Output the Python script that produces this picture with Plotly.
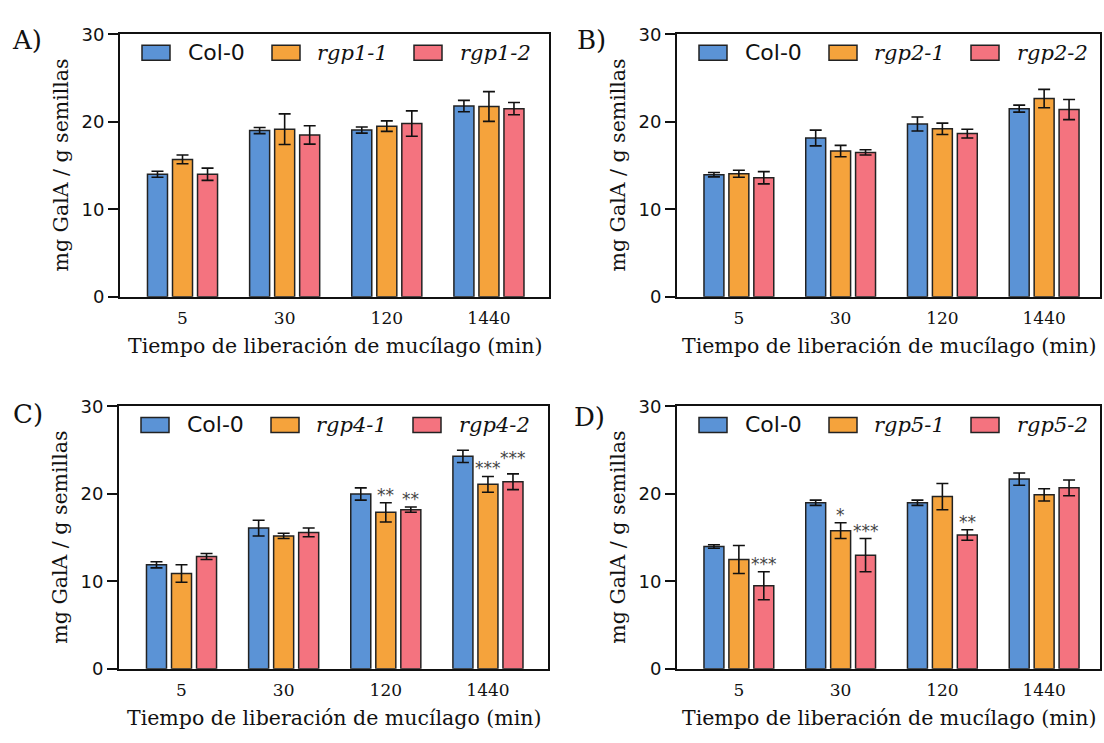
import plotly.graph_objects as go

# ---------------- data ----------------
categories = ["5", "30", "120", "1440"]
panel_labels = ["A)", "B)", "C)", "D)"]
x_title = "Tiempo de liberación de mucílago (min)"
y_title = "mg GalA / g semillas"
y_ticks = [0, 10, 20, 30]

names_a = ["Col-0", "rgp1-1", "rgp1-2"]
names_b = ["Col-0", "rgp2-1", "rgp2-2"]
names_c = ["Col-0", "rgp4-1", "rgp4-2"]
names_d = ["Col-0", "rgp5-1", "rgp5-2"]

# Panel A
a_col0 = [14.0, 19.0, 19.05, 21.8]
a_col0_err = [0.35, 0.35, 0.35, 0.65]
a_rgp1_1 = [15.7, 19.15, 19.5, 21.75]
a_rgp1_1_err = [0.5, 1.75, 0.6, 1.7]
a_rgp1_2 = [14.0, 18.5, 19.8, 21.5]
a_rgp1_2_err = [0.7, 1.05, 1.45, 0.7]

# Panel B
b_col0 = [13.95, 18.15, 19.75, 21.5]
b_col0_err = [0.25, 0.9, 0.8, 0.4]
b_rgp2_1 = [14.05, 16.65, 19.2, 22.65]
b_rgp2_1_err = [0.4, 0.65, 0.65, 1.05]
b_rgp2_2 = [13.6, 16.5, 18.65, 21.4]
b_rgp2_2_err = [0.7, 0.3, 0.5, 1.15]

# Panel C
c_col0 = [11.9, 16.1, 20.0, 24.3]
c_col0_err = [0.35, 0.9, 0.7, 0.7]
c_rgp4_1 = [10.9, 15.2, 17.9, 21.1]
c_rgp4_1_err = [1.0, 0.3, 1.1, 0.9]
c_rgp4_2 = [12.85, 15.6, 18.2, 21.4]
c_rgp4_2_err = [0.35, 0.5, 0.3, 0.9]

# Panel D
d_col0 = [14.0, 19.0, 19.0, 21.7]
d_col0_err = [0.2, 0.3, 0.3, 0.7]
d_rgp5_1 = [12.5, 15.8, 19.7, 19.9]
d_rgp5_1_err = [1.6, 0.9, 1.5, 0.7]
d_rgp5_2 = [9.5, 13.0, 15.3, 20.7]
d_rgp5_2_err = [1.6, 1.9, 0.6, 0.9]

# significance marks: (category, series index, text)
c_stars = [("120", 1, "**"), ("120", 2, "**"), ("1440", 1, "***"), ("1440", 2, "***")]
d_stars = [("5", 2, "***"), ("30", 1, "*"), ("30", 2, "***"), ("120", 2, "**")]

# ---------------- style ----------------
colors = ["#5b93d6", "#f5a33c", "#f4737f"]
edge = "#222222"
axis_col = "#111111"
W, H = 1104, 743

panels = [
    dict(names=names_a, vals=[a_col0, a_rgp1_1, a_rgp1_2],
         errs=[a_col0_err, a_rgp1_1_err, a_rgp1_2_err], stars=[],
         px=(120, 549), py=(24, 294), xr=(-0.612, 3.588), lab=(27, 30)),
    dict(names=names_b, vals=[b_col0, b_rgp2_1, b_rgp2_2],
         errs=[b_col0_err, b_rgp2_1_err, b_rgp2_2_err], stars=[],
         px=(677, 1100), py=(24, 294), xr=(-0.608, 3.549), lab=(591, 30)),
    dict(names=names_c, vals=[c_col0, c_rgp4_1, c_rgp4_2],
         errs=[c_col0_err, c_rgp4_1_err, c_rgp4_2_err], stars=c_stars,
         px=(119, 548), py=(407, 677), xr=(-0.612, 3.588), lab=(28, 415)),
    dict(names=names_d, vals=[d_col0, d_rgp5_1, d_rgp5_2],
         errs=[d_col0_err, d_rgp5_1_err, d_rgp5_2_err], stars=d_stars,
         px=(677, 1100), py=(407, 677), xr=(-0.608, 3.549), lab=(589, 418)),
]

bargap = 0.265
slot = (1 - bargap) / 3

sw_x = [22, 152, 294]
tx_x = [66, 195, 338]

fig = go.Figure()
shapes = []
annotations = []
layout_axes = {}

for p, pan in enumerate(panels):
    xa = "x" if p == 0 else f"x{p+1}"
    ya = "y" if p == 0 else f"y{p+1}"
    xkey = "xaxis" if p == 0 else f"xaxis{p+1}"
    ykey = "yaxis" if p == 0 else f"yaxis{p+1}"
    for s in range(3):
        fig.add_trace(go.Bar(
            x=categories, y=pan["vals"][s], name=pan["names"][s],
            marker=dict(color=colors[s], line=dict(color=edge, width=1.5)),
            error_y=dict(type="data", array=pan["errs"][s], color=axis_col,
                         thickness=1.6, width=6),
            xaxis=xa, yaxis=ya, showlegend=False, offsetgroup=str(s),
        ))
    x0, x1 = pan["px"]
    y0, y1 = pan["py"]
    layout_axes[xkey] = dict(
        domain=[x0 / W, x1 / W], range=list(pan["xr"]), type="category",
        anchor=ya, showline=True, linewidth=2, linecolor=axis_col, mirror=True,
        ticks="outside", ticklen=5, tickcolor="rgba(0,0,0,0)",
        tickfont=dict(family="DejaVu Serif", size=17, color="#111"),
        showgrid=False, zeroline=False, fixedrange=True,
    )
    layout_axes[ykey] = dict(
        domain=[1 - y1 / H, 1 - y0 / H], range=[0, 30], tickvals=y_ticks,
        anchor=xa, showline=True, linewidth=2, linecolor=axis_col, mirror=True,
        ticks="outside", ticklen=10, tickwidth=2, tickcolor=axis_col,
        tickfont=dict(family="DejaVu Sans", size=18, color="#111"),
        showgrid=False, zeroline=False, fixedrange=True,
    )
    # legend (manual swatches + labels)
    for s in range(3):
        shapes.append(dict(
            type="rect", xref=f"{xa} domain", yref=f"{ya} domain",
            xsizemode="pixel", xanchor=0, x0=sw_x[s], x1=sw_x[s] + 28,
            ysizemode="pixel", yanchor=1, y0=-26, y1=-11,
            fillcolor=colors[s], line=dict(color=edge, width=1.5),
        ))
        if s == 0:
            font = dict(family="DejaVu Sans", size=22, color="#111")
            txt = pan["names"][s]
        else:
            font = dict(family="DejaVu Serif", size=21, color="#111")
            txt = f"<i>{pan['names'][s]}</i>"
        annotations.append(dict(
            text=txt, xref=f"{xa} domain", yref=f"{ya} domain",
            x=0, xshift=tx_x[s], xanchor="left", y=1, yshift=-18.5,
            yanchor="middle", showarrow=False, font=font,
        ))
    # axis titles
    annotations.append(dict(
        text=x_title, xref=f"{xa} domain", yref=f"{ya} domain",
        x=0.5, y=0, yshift=-49, xanchor="center", yanchor="middle",
        showarrow=False, font=dict(family="DejaVu Serif", size=20.5, color="#111"),
    ))
    annotations.append(dict(
        text=y_title, xref=f"{xa} domain", yref=f"{ya} domain",
        x=0, xshift=-59, y=0.5, xanchor="center", yanchor="middle",
        textangle=-90, showarrow=False,
        font=dict(family="DejaVu Serif", size=20.5, color="#111"),
    ))
    # panel label
    lx, ly = pan["lab"]
    annotations.append(dict(
        text=panel_labels[p], xref="paper", yref="paper",
        x=lx / W, y=1 - ly / H, xanchor="center", yanchor="middle",
        showarrow=False, font=dict(family="DejaVu Serif", size=26, color="#111"),
    ))
    # significance stars (lift a label that would collide with its neighbour)
    prev = None
    for cat, s, txt in pan["stars"]:
        ci = categories.index(cat)
        top = pan["vals"][s][ci] + pan["errs"][s][ci]
        lift = 0
        if prev is not None and prev[0] == ci and len(txt) + len(prev[2]) >= 6 \
                and abs(prev[1] - top) < 1.5:
            lift = 8
        annotations.append(dict(
            text=txt, xref=xa, yref=ya, x=ci + (s - 1) * slot, y=top,
            xanchor="center", yanchor="bottom", yshift=-4 + lift, showarrow=False,
            font=dict(family="DejaVu Sans", size=17, color="#444"),
        ))
        prev = (ci, top, txt)

fig.update_layout(
    width=W, height=H, margin=dict(l=0, r=0, t=0, b=0),
    paper_bgcolor="white", plot_bgcolor="white",
    barmode="group", bargap=bargap, bargroupgap=0.2,
    shapes=shapes, annotations=annotations, **layout_axes,
)

fig.write_html(
    "out.html",
    config={"displayModeBar": False, "staticPlot": True},
    post_script="document.body.style.margin='0px';document.body.style.overflow='hidden';",
)
